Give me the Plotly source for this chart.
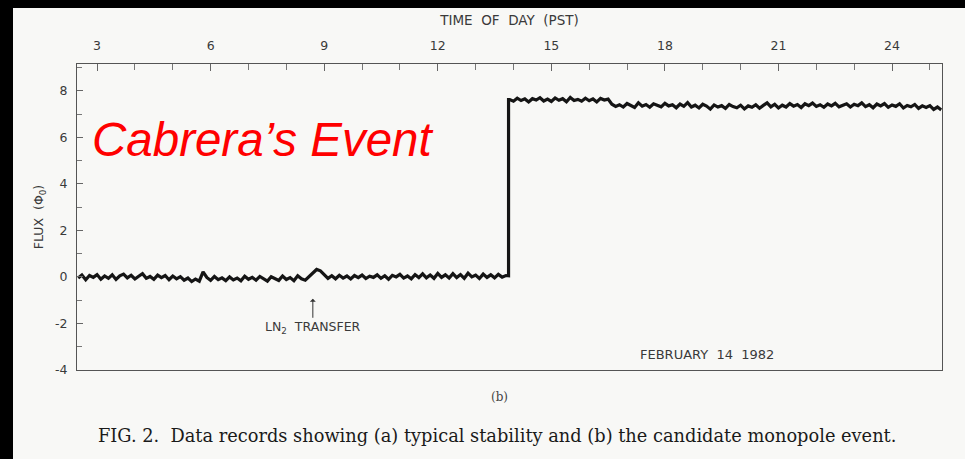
import plotly.graph_objects as go

# ---------------- data ----------------
hours_pre = [round(2.5 + 0.1 * i, 2) for i in range(114)]      # 2.5 .. 13.8
flux_pre = [
    -0.05, 0.08, -0.12, 0.06, -0.02, 0.10, -0.10, 0.04, -0.06, 0.09,
    -0.11, 0.05, 0.12, -0.04, 0.07, -0.09, 0.03, 0.14, -0.06, 0.02,
    -0.10, 0.08, -0.03, 0.06, -0.12, 0.04, -0.08, 0.01, -0.14, -0.05,
    -0.20, -0.09, -0.18, 0.22, -0.02, -0.15, 0.02, -0.12, -0.04, -0.16,
    0.00, -0.13, -0.05, -0.17, 0.03, -0.10, -0.02, -0.14, 0.02, -0.09,
    -0.18, 0.01, -0.07, -0.15, 0.04, -0.11, -0.03, -0.16, 0.05, -0.08,
    -0.14, 0.02, 0.18, 0.32, 0.26, 0.12, -0.06, 0.05, -0.08, 0.07,
    -0.05, 0.04, -0.09, 0.06, -0.03, 0.08, -0.07, 0.03, -0.02, 0.09,
    -0.06, 0.05, -0.10, 0.07, 0.00, 0.11, -0.05, 0.04, -0.08, 0.10,
    -0.03, 0.13, -0.04, 0.08, -0.06, 0.15, -0.02, 0.09, -0.05, 0.14,
    -0.03, 0.10, -0.06, 0.16, 0.00, 0.08, -0.07, 0.12, -0.02, 0.09,
    -0.04, 0.11, -0.01, 0.06,
]
hours_step = [13.87, 13.87]
flux_step = [0.05, 7.62]
hours_post = [round(13.9 + 0.1 * i, 2) for i in range(115)]    # 13.9 .. 25.3
flux_post = [
    7.62, 7.55, 7.68, 7.58, 7.65, 7.52, 7.66, 7.60, 7.70, 7.56,
    7.64, 7.54, 7.69, 7.59, 7.66, 7.53, 7.71, 7.58, 7.63, 7.55,
    7.68, 7.57, 7.65, 7.52, 7.67, 7.60, 7.64, 7.42, 7.33, 7.40,
    7.30, 7.45, 7.36, 7.28, 7.48, 7.34, 7.41, 7.29, 7.44, 7.37,
    7.31, 7.46, 7.35, 7.40, 7.27, 7.43, 7.33, 7.49, 7.30, 7.38,
    7.26, 7.42, 7.34, 7.21, 7.39, 7.30, 7.36, 7.24, 7.41, 7.32,
    7.27, 7.38, 7.22, 7.35, 7.29, 7.40, 7.25, 7.37, 7.48, 7.31,
    7.42, 7.26, 7.38, 7.30, 7.45, 7.34, 7.41, 7.28, 7.44, 7.36,
    7.47, 7.33, 7.40, 7.29, 7.43, 7.35, 7.46, 7.31, 7.39, 7.44,
    7.30, 7.42, 7.36, 7.48, 7.32, 7.40, 7.27, 7.43, 7.35, 7.45,
    7.29, 7.39, 7.33, 7.44, 7.26, 7.37, 7.31, 7.41, 7.24, 7.35,
    7.28, 7.36, 7.20, 7.30, 7.18,
]

x_ticks = [3, 6, 9, 12, 15, 18, 21, 24]
x_ticktext = ["3", "6", "9", "12", "15", "18", "21", "24"]
y_ticks = [-4, -2, 0, 2, 4, 6, 8]
y_ticktext = ["-4", "-2", "0", "2", "4", "6", "8"]
ln2_hour = 8.7
ln2_arrow_tip = -0.94

hours = hours_pre + hours_step + hours_post
flux = flux_pre + flux_step + flux_post

# ---------------- figure ----------------
W, H = 965, 459
L, R, T, B = 77, 23, 64, 89
PW, PH = W - L - R, H - T - B


def px(xp):
    return (xp - L) / PW


def py(yp):
    return 1 - (yp - T) / PH


PAGE = "#f8f8f6"
INK = "#3a3a3a"
SANS = "DejaVu Sans, Liberation Sans, sans-serif"
SERIF = "DejaVu Serif, Liberation Serif, serif"
TICKFONT = dict(family=SANS, size=12.5, color=INK)
LABFONT = dict(family=SANS, size=12.5, color=INK)

fig = go.Figure()
fig.add_trace(go.Scatter(
    x=hours, y=flux, mode="lines",
    line=dict(color="#151515", width=3.2),
    hoverinfo="skip", showlegend=False,
))

fig.update_layout(
    width=W, height=H, autosize=False,
    margin=dict(l=L, r=R, t=T, b=B, pad=0),
    paper_bgcolor=PAGE, plot_bgcolor=PAGE,
    showlegend=False,
    xaxis=dict(
        side="top", range=[2.47, 25.32],
        tickvals=x_ticks, ticktext=x_ticktext,
        ticks="inside", ticklen=7, tickwidth=1, tickcolor="#666",
        minor=dict(ticks="inside", dtick=1, tick0=0, ticklen=6, tickcolor="#777", tickwidth=1),
        showline=True, linecolor="#555", linewidth=1, mirror=True,
        showgrid=False, zeroline=False,
        tickfont=TICKFONT, ticklabelstandoff=8,
        title=dict(text="TIME  OF  DAY  (PST)", font=dict(family=SANS, size=13.5, color=INK),
                   standoff=9),
    ),
    yaxis=dict(
        range=[-4, 9.15],
        tickvals=y_ticks, ticktext=y_ticktext,
        ticks="inside", ticklen=6, tickwidth=1, tickcolor="#666",
        minor=dict(ticks="inside", dtick=1, tick0=0, ticklen=5, tickcolor="#777", tickwidth=1),
        showline=True, linecolor="#555", linewidth=1, mirror=True,
        showgrid=False, zeroline=False,
        tickfont=TICKFONT, ticklabelstandoff=6,
        title=dict(text="FLUX  (Φ<sub>0</sub>)", font=LABFONT, standoff=8),
    ),
)

# black scan borders (left and top)
fig.add_shape(type="rect", xref="paper", yref="paper",
              x0=px(0), x1=px(13), y0=py(H), y1=py(0),
              fillcolor="black", line=dict(width=0), layer="above")
fig.add_shape(type="rect", xref="paper", yref="paper",
              x0=px(0), x1=px(W), y0=py(8), y1=py(0),
              fillcolor="black", line=dict(width=0), layer="above")

# red overlay title
fig.add_annotation(xref="paper", yref="paper", x=px(90), y=py(139),
                   xanchor="left", yanchor="middle", showarrow=False,
                   text="<i>Cabrera’s Event</i>",
                   font=dict(family="Liberation Sans, Arial, sans-serif", size=47.5, color="#ff0000"))

# LN2 transfer label with arrow
fig.add_annotation(x=ln2_hour, y=ln2_arrow_tip, xref="x", yref="y",
                   text="LN<sub>2</sub>  TRANSFER", font=LABFONT,
                   showarrow=True, arrowhead=1, arrowsize=1, arrowwidth=1,
                   arrowcolor="#333", ax=0, ay=29, standoff=0)

fig.add_annotation(xref="paper", yref="paper", x=px(707), y=py(354),
                   xanchor="center", yanchor="middle", showarrow=False,
                   text="FEBRUARY  14  1982", font=dict(family=SANS, size=13, color=INK))

fig.add_annotation(xref="paper", yref="paper", x=px(499), y=py(397),
                   xanchor="center", yanchor="middle", showarrow=False,
                   text="(b)", font=dict(family=SERIF, size=12, color="#444"))

fig.add_annotation(xref="paper", yref="paper", x=px(497), y=py(436),
                   xanchor="center", yanchor="middle", showarrow=False,
                   text="FIG. 2.  Data records showing (a) typical stability and (b) the candidate monopole event.",
                   font=dict(family=SERIF, size=17.8, color="#1a1a1a"))

fig.write_html("out.html")
